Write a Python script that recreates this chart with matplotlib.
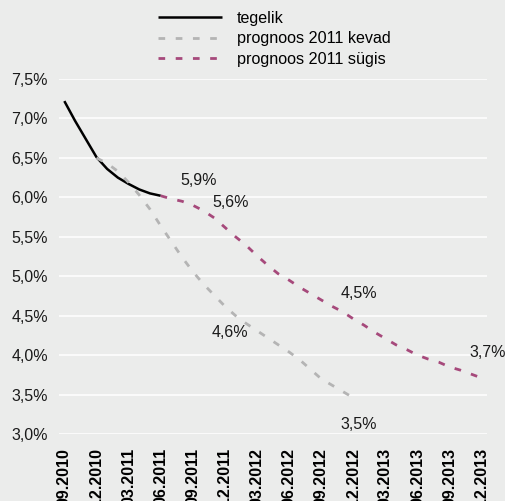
import numpy as np
import matplotlib
matplotlib.use("Agg")
import matplotlib.pyplot as plt

# monthly data, 09.2010 ... 12.2013 (40 months), labels every 3rd month
tick_labels = ["09.2010", "12.2010", "03.2011", "06.2011", "09.2011", "12.2011",
               "03.2012", "06.2012", "09.2012", "12.2012", "03.2013", "06.2013",
               "09.2013", "12.2013"]
n_months = 40

# actual (09.2010 - 06.2011)
tegelik = [7.22, 6.97, 6.74, 6.51, 6.36, 6.25, 6.17, 6.10, 6.05, 6.02]
tegelik_start = 0

# spring 2011 forecast (12.2010 - 12.2012)
kevad = [6.50, 6.43, 6.33, 6.19, 6.03, 5.85, 5.64, 5.44, 5.24, 5.06, 4.90, 4.76,
         4.62, 4.50, 4.40, 4.31, 4.22, 4.13, 4.04, 3.94, 3.82, 3.70, 3.62, 3.54, 3.46]
kevad_start = 3
kevad_labels = [15, 27]

# autumn 2011 forecast (06.2011 - 12.2013)
sugis = [6.02, 5.98, 5.95, 5.90, 5.83, 5.74, 5.62, 5.50, 5.39, 5.26, 5.14, 5.03,
         4.95, 4.86, 4.78, 4.70, 4.62, 4.55, 4.46, 4.38, 4.29, 4.21, 4.13, 4.07,
         4.00, 3.95, 3.91, 3.85, 3.81, 3.76, 3.71]
sugis_start = 9
sugis_labels = [12, 15, 27, 39]

bg = "#ebeceb"
gray = "#b4b4b4"
purple = "#a6497b"

plt.rcParams['font.family'] = ['Liberation Sans', 'DejaVu Sans']

fig = plt.figure(figsize=(5.06, 5.01), dpi=100, facecolor=bg)
ax = fig.add_axes([59 / 506, 67 / 501, 428 / 506, 355 / 501])
ax.set_facecolor(bg)

x_teg = np.arange(tegelik_start, tegelik_start + len(tegelik))
x_kev = np.arange(kevad_start, kevad_start + len(kevad))
x_sug = np.arange(sugis_start, sugis_start + len(sugis))

dash = (0, (2.4, 3.8))
ax.plot(x_teg, tegelik, color="black", lw=1.8, label="tegelik", zorder=3,
        solid_capstyle="butt")
ax.plot(x_kev, kevad, color=gray, lw=2.0, ls=dash, label="prognoos 2011 kevad",
        zorder=4)
ax.plot(x_sug, sugis, color=purple, lw=2.0, ls=dash, label="prognoos 2011 sügis",
        zorder=5)


def fmt(v):
    return f"{v:.1f}".replace(".", ",") + "%"


for i in sugis_labels:
    v = sugis[i - sugis_start]
    ax.annotate(fmt(v), (i, v), xytext=(4, 18), textcoords="offset points",
                ha="center", va="center", fontsize=11.5, color="#1a1a1a")
for i in kevad_labels:
    v = kevad[i - kevad_start]
    ax.annotate(fmt(v), (i, v), xytext=(4, -19), textcoords="offset points",
                ha="center", va="center", fontsize=11.5, color="#1a1a1a")

ax.set_xlim(-0.5, n_months - 0.5)
ax.set_ylim(3.0, 7.5)
yt = np.arange(3.0, 7.51, 0.5)
ax.set_yticks(yt)
ax.set_yticklabels([f"{v:.1f}".replace(".", ",") + "%" for v in yt], fontsize=11.5,
                   color="#1a1a1a")
ax.set_xticks(np.arange(0, n_months, 3))
ax.set_xticklabels(tick_labels, rotation=90, fontsize=11.5, fontweight="bold",
                   va="top", ha="center")
ax.tick_params(axis="both", length=0)
ax.tick_params(axis="y", pad=8)
ax.tick_params(axis="x", pad=10)

ax.grid(axis="y", color="white", lw=1.1)
ax.set_axisbelow(True)
for s in ax.spines.values():
    s.set_visible(False)

fig.legend(loc="upper left", bbox_to_anchor=(158 / 506, 1 - 11 / 501), frameon=False,
           fontsize=11.6, handlelength=4.0, handletextpad=0.9, labelspacing=0.33,
           borderpad=0, borderaxespad=0)

fig.savefig("out.png", dpi=100, facecolor=bg)
